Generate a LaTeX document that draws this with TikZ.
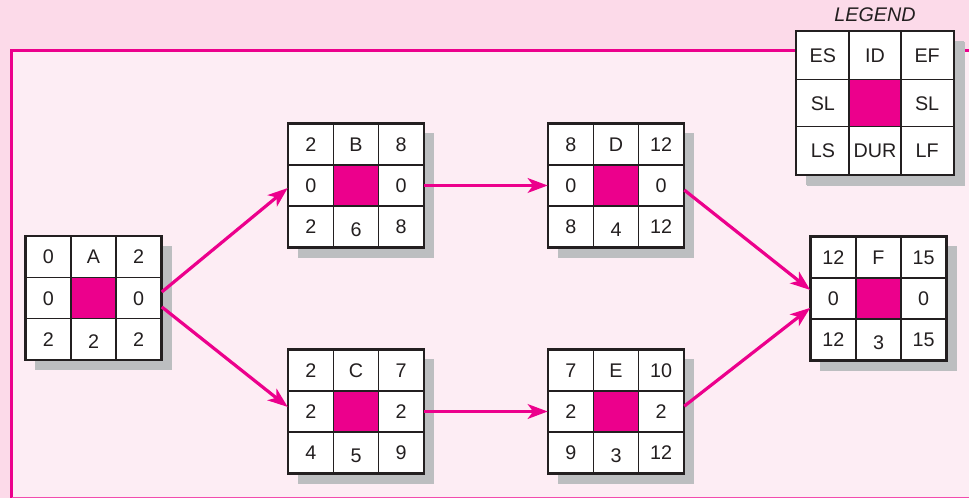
\documentclass[tikz,border=0pt]{standalone}
\usepackage{fontspec}
\setmainfont{Liberation Sans}
\usetikzlibrary{matrix,shadows,arrows.meta}

\definecolor{pertpink}{HTML}{EC008C}
\definecolor{bgout}{HTML}{FCDAE9}
\definecolor{bgin}{HTML}{FDEDF4}
\definecolor{shadowgray}{HTML}{BCBEC0}
\definecolor{textgray}{HTML}{231F20}

\tikzset{
  cell/.style={draw=textgray, line width=1pt, fill=white,
    minimum width=33.8pt, minimum height=30.8pt, inner sep=0pt,
    text height=10.6pt, text depth=0pt, text=textgray,
    font=\fontsize{14.8}{17}\selectfont},
  grid/.style={matrix of nodes, nodes in empty cells, nodes={cell},
    ampersand replacement=\&, column sep=-1pt, row sep=-1pt,
    inner sep=0pt, draw=textgray, line width=1.2pt, fill=white,
    drop shadow={shadow xshift=7.5pt, shadow yshift=-7.5pt,
      fill=shadowgray, opacity=1}},
  hole/.style={fill=pertpink},
  link/.style={draw=pertpink, line width=2.4pt,
    -{Stealth[length=15pt, width=11pt, inset=4pt]}}
}

% name, position, ES, EF, slack, LS, duration, LF
\newcommand{\activity}[8]{%
  \matrix (#1) [grid] at (#2) {
    #3 \& #1 \& #4 \\
    #5 \& |[hole]| {} \& #5 \\
    #6 \& \lower2pt\hbox{#7} \& #8 \\
  };}

\begin{document}
\begin{tikzpicture}[x=0.75pt, y=-0.75pt]
  \useasboundingbox[fill=bgout] (0,0) rectangle (969,498);
  \fill[bgin] (12,51) rectangle (969,498);
  \draw[pertpink, line width=1.9pt] (11.3,498) -- (11.3,50.7) -- (969,50.7);
  \draw[pertpink!70, line width=0.8pt] (12,497.5) -- (969,497.5);

  % Activities
  \activity{A}{93.5,298}{0}{2}{0}{2}{2}{2}
  \activity{B}{356,185.5}{2}{8}{0}{2}{6}{8}
  \activity{C}{356,411.5}{2}{7}{2}{4}{5}{9}
  \activity{D}{616,185.5}{8}{12}{0}{8}{4}{12}
  \activity{E}{616,411.5}{7}{10}{2}{9}{3}{12}
  \activity{F}{878.5,298.5}{12}{15}{0}{12}{3}{15}

  % Legend
  \node[font=\fontsize{14.8}{17}\selectfont\itshape, text=textgray]
    (legendtitle) at (875,15) {LEGEND};
  \matrix (legend) [grid, nodes={minimum width=39.1pt, minimum height=35.6pt},
    drop shadow={shadow xshift=8.2pt, shadow yshift=-8.2pt,
      fill=shadowgray, opacity=1}]
    at (875,103) {
    ES \& ID \& EF \\
    SL \& |[hole]| {} \& SL \\
    LS \& DUR \& LF \\
  };

  % Links
  \draw[link] ([yshift=4.5pt]A-2-3.east) -- ([yshift=-1.9pt]B-2-1.west);
  \draw[link] ([yshift=-6.7pt]A-2-3.east) -- ([yshift=3.4pt]C-2-1.west);
  \draw[link] (B-2-3.east) -- (D-2-1.west);
  \draw[link] (C-2-3.east) -- (E-2-1.west);
  \draw[link] ([yshift=-3.4pt]D-2-3.east) -- ([yshift=6.4pt]F-2-1.west);
  \draw[link] ([yshift=4pt]E-2-3.east) -- ([yshift=-7pt]F-2-1.west);
\end{tikzpicture}
\end{document}
